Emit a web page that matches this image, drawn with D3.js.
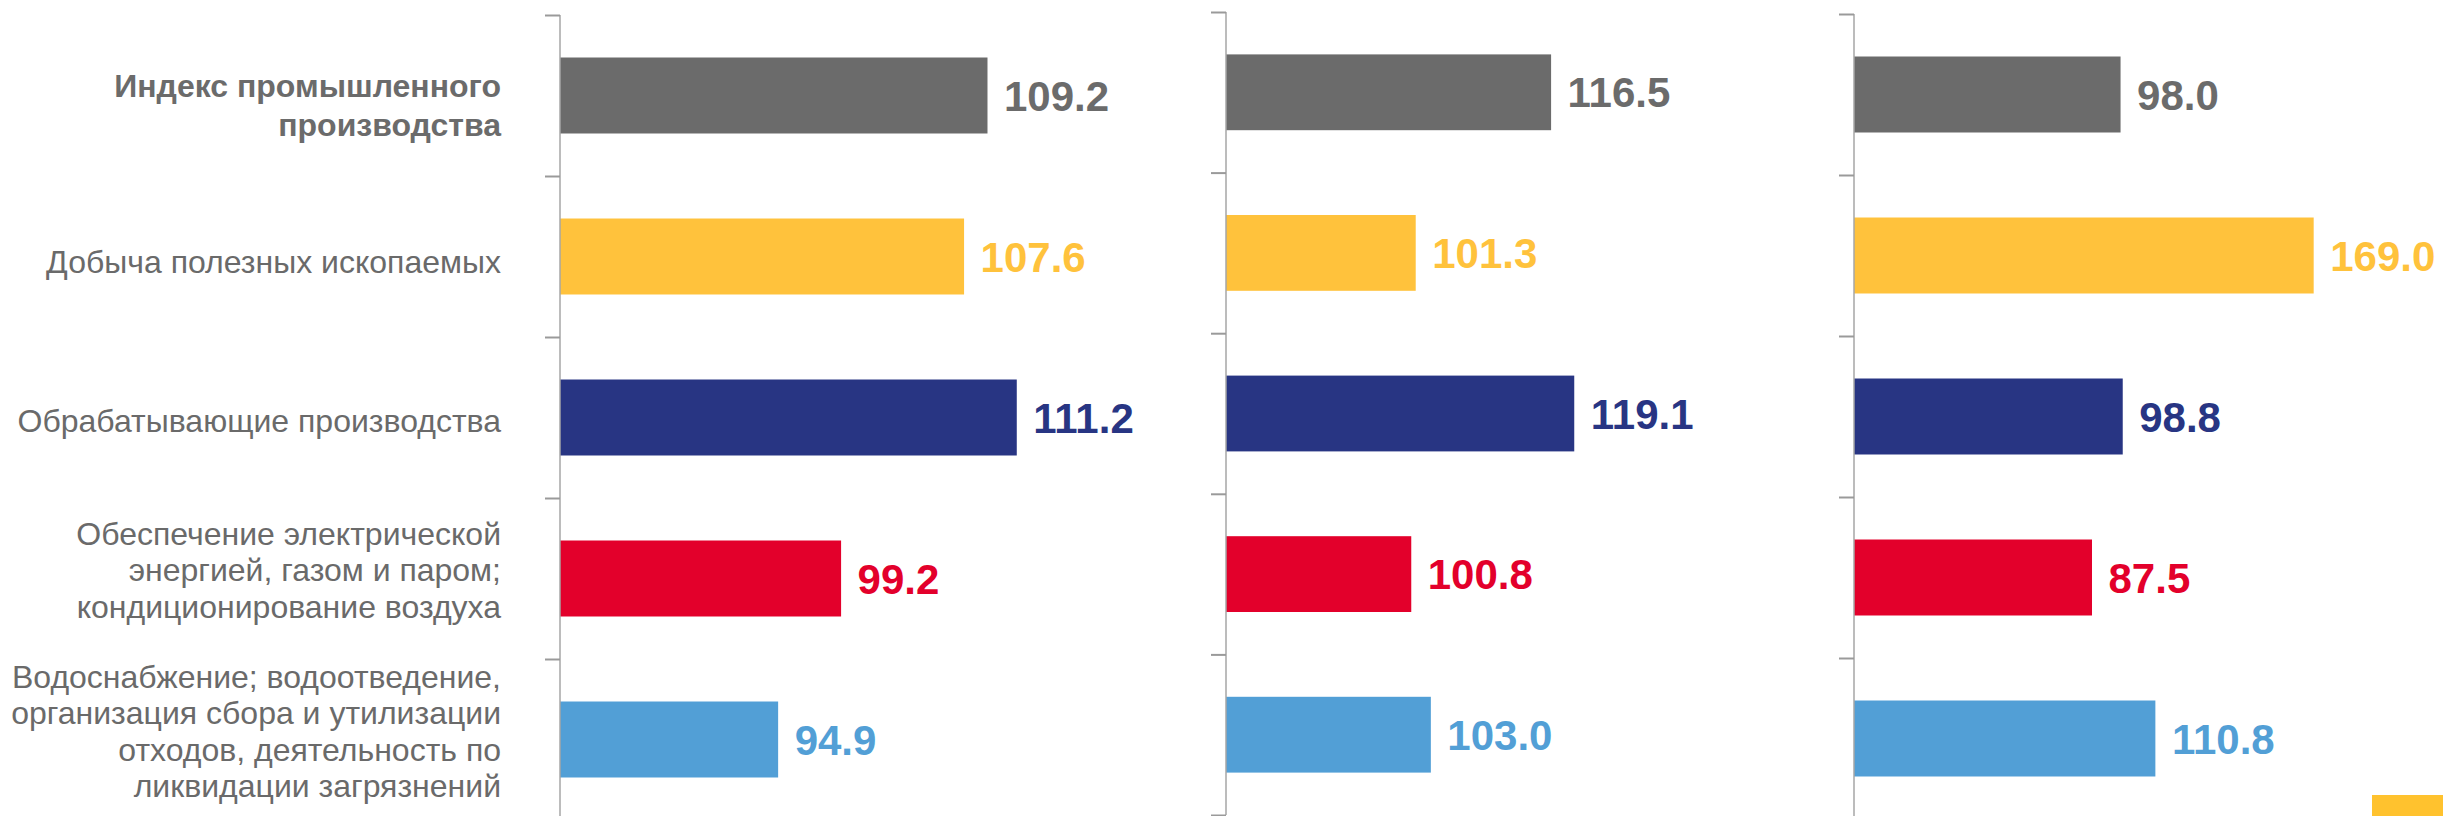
<!DOCTYPE html>
<html>
<head>
<meta charset="utf-8">
<script src="https://cdn.jsdelivr.net/npm/d3@7"></script>
<style>
  html, body { margin: 0; padding: 0; background: #ffffff; }
  svg { display: block; font-family: "Liberation Sans", Arial, sans-serif; }
</style>
</head>
<body>
<svg id="chart" width="2443" height="816"></svg>
<script>
// ---- data ----
const categories = [
  "Индекс промышленного\nпроизводства",
  "Добыча полезных ископаемых",
  "Обрабатывающие производства",
  "Обеспечение электрической\nэнергией, газом и паром;\nкондиционирование воздуха",
  "Водоснабжение; водоотведение,\nорганизация сбора и утилизации\nотходов, деятельность по\nликвидации загрязнений"
];
const panel1Values = [109.2, 107.6, 111.2, 99.2, 94.9];
const panel2Values = [116.5, 101.3, 119.1, 100.8, 103.0];
const panel3Values = [98.0, 169.0, 98.8, 87.5, 110.8];
const barColors = ["#6b6b6b", "#ffc23c", "#283583", "#e3002b", "#529fd6"];

// ---- layout ----
const svg = d3.select("#chart");
const panels = [
  { values: panel1Values, x0: 560, domain: [80, 120], width: 585.6, y: [15, 820] },
  { values: panel2Values, x0: 1226, domain: [80, 140], width: 534.4, y: [12, 815] },
  { values: panel3Values, x0: 1854, domain: [0, 200], width: 544, y: [14, 819] }
];
const pad = 0.528;

panels.forEach((p, pi) => {
  const x = d3.scaleLinear().domain(p.domain).range([p.x0, p.x0 + p.width]);
  const y = d3.scaleBand().domain(d3.range(p.values.length))
    .range(p.y).paddingInner(pad).paddingOuter(pad / 2);
  const yLin = d3.scaleLinear().domain([0, p.values.length]).range(p.y);

  const g = svg.append("g");

  // bars
  g.selectAll("rect.bar").data(p.values).join("rect")
    .attr("class", "bar")
    .attr("x", x(p.domain[0]))
    .attr("y", (d, i) => y(i))
    .attr("width", d => x(d) - x(p.domain[0]))
    .attr("height", y.bandwidth())
    .attr("fill", (d, i) => barColors[i]);

  // axis (line + ticks at category boundaries)
  const axis = d3.axisLeft(yLin).tickValues(d3.range(p.values.length + 1))
    .tickSize(15).tickFormat("");
  const ag = g.append("g").attr("transform", `translate(${x(p.domain[0])},0)`).call(axis);
  ag.select(".domain").attr("stroke", "#a6a6a6").attr("stroke-width", 1.5)
    .attr("d", `M0,${p.y[0]}V${p.y[1]}`);
  ag.selectAll(".tick line").attr("stroke", "#9a9a9a").attr("stroke-width", 2);

  // value labels
  g.selectAll("text.val").data(p.values).join("text")
    .attr("class", "val")
    .attr("x", d => x(d) + 16.5)
    .attr("y", (d, i) => y(i) + y.bandwidth() / 2)
    .attr("dy", "0.36em")
    .attr("font-size", 42)
    .attr("font-weight", "bold")
    .attr("fill", (d, i) => barColors[i])
    .text(d => d.toFixed(1));

  // category labels on first panel
  if (pi === 0) {
    const offsets = [10, 5, 3, -8.3, -8.3];
    categories.forEach((c, i) => {
      const lines = c.split("\n");
      const bold = i === 0;
      const fs = 32;
      const lh = bold ? 39.3 : 36.6;
      const cy = y(i) + y.bandwidth() / 2 + offsets[i];
      const first = cy - (lines.length - 1) / 2 * lh + 0.35 * fs;
      const t = g.append("text")
        .attr("text-anchor", "end")
        .attr("font-size", fs)
        .attr("font-weight", bold ? "bold" : "normal")
        .attr("fill", bold ? "#6b6b6b" : "#6a6a6a");
      lines.forEach((ln, k) => {
        t.append("tspan").attr("x", 501).attr("y", first + k * lh).text(ln);
      });
    });
  }
});

// decorative corner block
svg.append("rect").attr("x", 2372).attr("y", 795).attr("width", 71).attr("height", 21)
  .attr("fill", "#ffc22e");
</script>
</body>
</html>
